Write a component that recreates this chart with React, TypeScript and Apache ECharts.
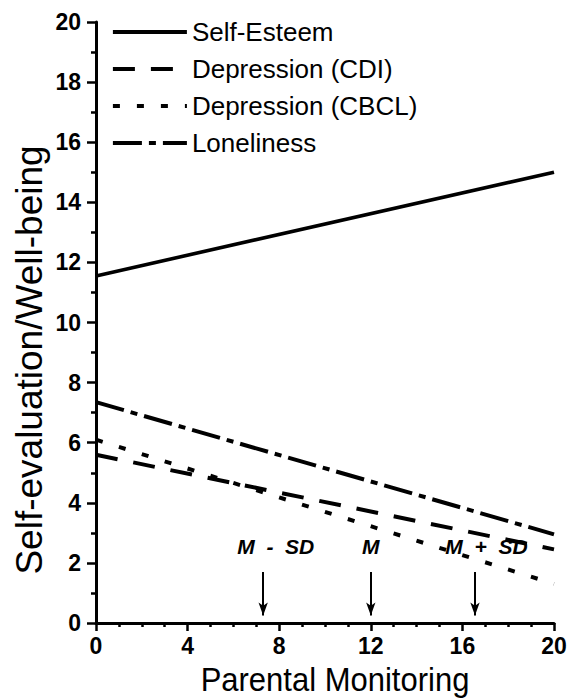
import React, { useEffect, useRef } from "react";
import * as echarts from "echarts";

const xEnds = [0, 20];
const selfEsteem = [11.55, 15.0];
const depressionCDI = [5.6, 2.45];
const depressionCBCL = [6.1, 1.3];
const loneliness = [7.35, 2.95];
const arrowX = [7.3, 12, 16.55];
const labelX = [7.85, 12, 17.05];
const markerLabels = ["M\u00a0\u00a0-\u00a0\u00a0SD", "M", "M\u00a0\u00a0+\u00a0\u00a0SD"];
const arrowTop = 1.7;
const arrowBottom = 0.25;
const labelY = 2.55;
const legendNames = ["Self-Esteem", "Depression (CDI)", "Depression (CBCL)", "Loneliness"];
const xTitle = "Parental Monitoring";
const yTitle = "Self-evaluation/Well-being";

const FONT = "Liberation Sans, Arial, Helvetica, sans-serif";

export default function App() {
  const ref = useRef<HTMLDivElement>(null);
  useEffect(() => {
    if (!ref.current) return;
    const chart = echarts.init(ref.current, undefined, { renderer: "svg" });
    const mk = (name: string, ys: number[], type: any, width: number) => ({
      name,
      type: "line",
      data: xEnds.map((x, i) => [x, ys[i]]),
      showSymbol: false,
      symbol: "none",
      lineStyle: { color: "#000", width, type, cap: "butt" },
      itemStyle: { color: "#000" },
      z: 3,
    });
    chart.setOption({
      animation: false,
      backgroundColor: "#fff",
      grid: { left: 96, right: 18, top: 22, bottom: 77 },
      legend: {
        data: legendNames,
        orient: "vertical",
        left: 106,
        top: 14,
        itemWidth: 74,
        itemHeight: 14,
        itemGap: 11,
        itemStyle: { opacity: 0 },
        lineStyle: { width: 3.8 },
        textStyle: { fontFamily: FONT, fontSize: 26, color: "#000" },
      },
      graphic: [
        {
          type: "text",
          x: 335,
          y: 679,
          scaleY: 1.1,
          style: {
            text: xTitle,
            font: `31px ${FONT}`,
            fill: "#000",
            align: "center",
            verticalAlign: "middle",
            textAlign: "center",
            textVerticalAlign: "middle",
          },
        },
        {
          type: "text",
          x: 29,
          y: 360,
          rotation: Math.PI / 2,
          style: {
            text: yTitle,
            font: `37px ${FONT}`,
            fill: "#000",
            align: "center",
            verticalAlign: "middle",
            textAlign: "center",
            textVerticalAlign: "middle",
          },
        },
      ],
      xAxis: {
        type: "value",
        min: 0,
        max: 20,
        interval: 4,
        axisLine: { show: true, onZero: false, lineStyle: { color: "#000", width: 3 } },
        axisTick: { show: true, length: 8, lineStyle: { color: "#000", width: 2.5 } },
        minorTick: { show: true, splitNumber: 4, length: 4, lineStyle: { color: "#000", width: 2.5 } },
        axisLabel: { fontFamily: FONT, fontSize: 23, fontWeight: "bold", color: "#000", margin: 11 },
        splitLine: { show: false },
      },
      yAxis: {
        type: "value",
        min: 0,
        max: 20,
        interval: 2,
        axisLine: { show: true, onZero: false, lineStyle: { color: "#000", width: 3 } },
        axisTick: { show: true, length: 9, lineStyle: { color: "#000", width: 2.5 } },
        minorTick: { show: true, splitNumber: 2, length: 5, lineStyle: { color: "#000", width: 2.5 } },
        axisLabel: { fontFamily: FONT, fontSize: 23, fontWeight: "bold", color: "#000", margin: 15 },
        splitLine: { show: false },
      },
      series: [
        mk("Self-Esteem", selfEsteem, "solid", 3.6),
        mk("Depression (CDI)", depressionCDI, [22, 16], 4),
        mk("Depression (CBCL)", depressionCBCL, [7, 17], 4),
        mk("Loneliness", loneliness, [29, 7, 7, 7], 4),
        {
          name: "markers",
          type: "scatter",
          data: labelX.map((x, i) => ({ value: [x, labelY], name: markerLabels[i] })),
          symbolSize: 0,
          itemStyle: { opacity: 1, color: "#000" },
          label: {
            show: true,
            position: "inside",
            formatter: (p: any) => p.name,
            fontFamily: FONT,
            fontSize: 21,
            fontStyle: "italic",
            fontWeight: "bold",
            color: "#000",
            opacity: 1,
          },
          z: 5,
        },
        {
          name: "arrows",
          type: "line",
          data: [],
          markLine: {
            silent: true,
            symbol: ["none", "arrow"],
            symbolSize: [7, 13],
            label: { show: false },
            lineStyle: { color: "#000", width: 2, type: "solid", opacity: 1 },
            data: arrowX.map((x) => [
              { coord: [x, arrowTop] },
              { coord: [x, arrowBottom] },
            ]),
          },
          z: 5,
        },
      ],
    });
    return () => chart.dispose();
  }, []);
  return (
    <div
      ref={ref}
      style={{ position: "fixed", left: 0, top: 0, width: 572, height: 700, background: "#fff" }}
    />
  );
}
